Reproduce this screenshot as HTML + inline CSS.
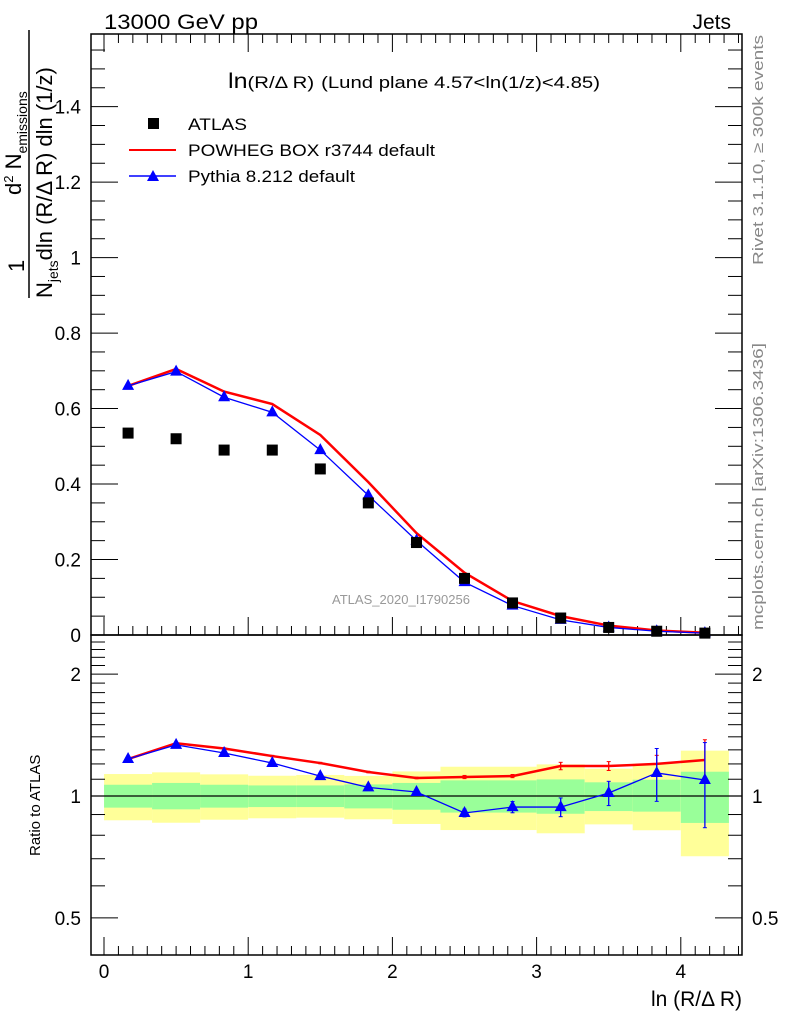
<!DOCTYPE html>
<html><head><meta charset="utf-8"><style>
body{margin:0;background:#fff;}
svg{display:block;font-family:"Liberation Sans",sans-serif;}
</style></head><body>
<svg id="c" width="786" height="1024" viewBox="0 0 786 1024">
<text x="104" y="29" font-size="21" textLength="154" lengthAdjust="spacingAndGlyphs">13000 GeV pp</text>
<text x="731" y="29" font-size="21" text-anchor="end">Jets</text>
<text x="228" y="88" font-size="21" textLength="372" lengthAdjust="spacingAndGlyphs">ln<tspan font-size="17">(R/Δ R)</tspan> <tspan font-size="17">(Lund plane 4.57&lt;ln(1/z)&lt;4.85)</tspan></text>
<text transform="translate(763,265) rotate(-90)" font-size="15" fill="#888" textLength="230" lengthAdjust="spacingAndGlyphs">Rivet 3.1.10, ≥ 300k events</text>
<text transform="translate(763,630) rotate(-90)" font-size="15" fill="#888" textLength="287" lengthAdjust="spacingAndGlyphs">mcplots.cern.ch [arXiv:1306.3436]</text>
<text x="332" y="604" font-size="13" fill="#999" textLength="138" lengthAdjust="spacingAndGlyphs">ATLAS_2020_I1790256</text>
<g font-size="22">
<text transform="translate(24,272) rotate(-90)">1</text>
<line x1="29" y1="298" x2="29" y2="30" stroke="#000" stroke-width="1.5"/>
<text transform="translate(52,298) rotate(-90)">N<tspan font-size="14" dy="6">jets</tspan><tspan dy="-6">dln (R/Δ R) dln (1/z)</tspan></text>
<text transform="translate(21,195) rotate(-90)">d<tspan font-size="13" dy="-8">2</tspan><tspan dy="8"> N</tspan><tspan font-size="14" dy="6">emissions</tspan></text>
</g>
<text transform="translate(40,856) rotate(-90)" font-size="15">Ratio to ATLAS</text>
<text x="742" y="1006" font-size="21" text-anchor="end">ln (R/Δ R)</text>
<g id="g"></g>
<g font-size="17">
<rect x="148" y="118" width="11" height="11" fill="#000"/>
<text x="188" y="130" textLength="59" lengthAdjust="spacingAndGlyphs">ATLAS</text>
<line x1="129" y1="150" x2="176" y2="150" stroke="#f00" stroke-width="2"/>
<text x="188" y="156" textLength="247" lengthAdjust="spacingAndGlyphs">POWHEG BOX r3744 default</text>
<line x1="129" y1="176" x2="176" y2="176" stroke="#00f" stroke-width="1.5"/>
<polygon points="153,170 147,181 159,181" fill="#00f"/>
<text x="188" y="182" textLength="167" lengthAdjust="spacingAndGlyphs">Pythia 8.212 default</text>
</g>
</svg>
<script>
const xCenters=[0.167,0.5,0.833,1.167,1.5,1.833,2.167,2.5,2.833,3.167,3.5,3.833,4.167];
const atlas=[0.535,0.52,0.49,0.49,0.44,0.35,0.245,0.15,0.085,0.045,0.02,0.01,0.005];
const powheg=[0.66,0.705,0.645,0.612,0.53,0.405,0.27,0.165,0.09,0.05,0.025,0.012,0.006];
const pythia=[0.66,0.698,0.63,0.59,0.49,0.37,0.25,0.14,0.078,0.04,0.02,0.01,0.005];
const rPowheg=[1.234,1.35,1.31,1.255,1.206,1.146,1.108,1.114,1.12,1.186,1.186,1.2,1.227];
const rPowhegErr=[0.005,0.005,0.005,0.005,0.005,0.005,0.005,0.01,0.01,0.025,0.03,0.06,0.15];
const rPythia=[1.234,1.337,1.277,1.206,1.12,1.05,1.023,0.908,0.939,0.939,1.017,1.14,1.095];
const rPythiaErr=[0.005,0.005,0.005,0.005,0.005,0.005,0.005,0.02,0.03,0.05,0.07,0.17,0.26];
const yelUp=[1.133,1.144,1.131,1.122,1.127,1.121,1.15,1.181,1.181,1.197,1.168,1.202,1.294];
const yelLo=[0.871,0.859,0.874,0.881,0.884,0.876,0.853,0.824,0.824,0.809,0.851,0.823,0.71];
const grnUp=[1.066,1.077,1.066,1.062,1.062,1.068,1.077,1.093,1.093,1.099,1.081,1.097,1.148];
const grnLo=[0.936,0.927,0.936,0.939,0.939,0.932,0.925,0.91,0.91,0.904,0.918,0.915,0.858];
const xTicks=[0,1,2,3,4];
const yTicks=[0,0.2,0.4,0.6,0.8,1,1.2,1.4];
const yTickLabels=["0","0.2","0.4","0.6","0.8","1","1.2","1.4"];
const rTicks=[0.5,1,2];
const binW=1/3;
const NS="http://www.w3.org/2000/svg";
const g=document.getElementById('g');
const L=91,R=742,T=34,MB=635,RB=955;
const X=v=>104+v*144.2;
const Y=v=>635-v*377.4;
const RY=r=>796-405*Math.log10(r);
function mk(t,a,parent){const e=document.createElementNS(NS,t);for(const k in a)e.setAttribute(k,a[k]);(parent||g).appendChild(e);return e;}
const clip=mk('clipPath',{id:'rc'});mk('rect',{x:L,y:635,width:R-L,height:RB-635},clip);
const bg=mk('g',{'clip-path':'url(#rc)'});


xCenters.forEach((c,i)=>{
 const x0=X(c-binW/2),x1=X(c+binW/2);
 const y=mk('rect',{x:x0,y:RY(yelUp[i]),width:x1-x0,height:RY(yelLo[i])-RY(yelUp[i]),fill:'#ffff99'},bg);
 
 
 const gr=mk('rect',{x:x0,y:RY(grnUp[i]),width:x1-x0,height:RY(grnLo[i])-RY(grnUp[i]),fill:'#99ff99'},bg);
 
 
});
mk('line',{x1:L,x2:R,y1:RY(1),y2:RY(1),stroke:'#000','stroke-width':1.3});
const f1=mk('rect',{x:L,y:T,width:R-L,height:MB-T,fill:'none',stroke:'#000','stroke-width':1.5});


const f2=mk('rect',{x:L,y:MB,width:R-L,height:RB-MB,fill:'none',stroke:'#000','stroke-width':1.5});


for(let v=0;v<=4.41;v+=0.1){const vv=Math.round(v*10)/10;const maj=Math.abs(vv-Math.round(vv))<1e-6;const len=maj?18:9;const x=X(vv);
 [[T,1],[MB,-1],[RB,-1]].forEach(([y0,d])=>mk('line',{x1:x,x2:x,y1:y0,y2:y0+d*len,stroke:'#000'}));}
xTicks.forEach(v=>{const t=mk('text',{x:X(v),y:978,'font-size':19,'text-anchor':'middle'});t.textContent=v;
 
 });
for(let v=0;v<=1.58;v+=0.05){const vv=Math.round(v*100)/100;const maj=Math.abs(vv*5-Math.round(vv*5))<1e-6;const len=maj?27:14;const y=Y(vv);
 mk('line',{x1:L,x2:L+len,y1:y,y2:y,stroke:'#000'});mk('line',{x1:R,x2:R-len,y1:y,y2:y,stroke:'#000'});}
yTicks.forEach((v,i)=>{const t=mk('text',{x:81,y:Y(v)+7,'font-size':19,'text-anchor':'end'});t.textContent=yTickLabels[i];
 
 });
[0.5,0.6,0.7,0.8,0.9,1,1.1,1.2,1.3,1.4,1.5,1.6,1.7,1.8,1.9,2,2.1,2.2,2.3,2.4].forEach(r=>{const y=RY(r);if(y<MB+2)return;const maj=rTicks.includes(r);const len=maj?27:14;
 mk('line',{x1:L,x2:L+len,y1:y,y2:y,stroke:'#000'});mk('line',{x1:R,x2:R-len,y1:y,y2:y,stroke:'#000'});});
rTicks.forEach(r=>{const t=mk('text',{x:81,y:RY(r)+7,'font-size':19,'text-anchor':'end'});t.textContent=r;
 
 
 const t2=mk('text',{x:752,y:RY(r)+7,'font-size':19});t2.textContent=r;
 
 });
function line(xs,ys,col,w,name){const p=mk('polyline',{points:xs.map((x,i)=>X(x)+','+ys[i]).join(' '),fill:'none',stroke:col,'stroke-width':w});
 
 }
function tri(x,y,name){const p=mk('polygon',{points:`${x},${y-7} ${x-6},${y+4} ${x+6},${y+4}`,fill:'#00f'});
 
 }
function err(c,v,e,col){const x=X(c);mk('line',{x1:x,x2:x,y1:RY(v+e),y2:RY(v-e),stroke:col,'stroke-width':1.3});
 mk('line',{x1:x-2,x2:x+2,y1:RY(v+e),y2:RY(v+e),stroke:col});mk('line',{x1:x-2,x2:x+2,y1:RY(v-e),y2:RY(v-e),stroke:col});}
line(xCenters,powheg.map(Y),'#f00',2.5,'powheg-line');
line(xCenters,pythia.map(Y),'#00f',1.3,'pythia-line');
xCenters.forEach((c,i)=>tri(X(c),Y(pythia[i]),'pythia-point'));
xCenters.forEach((c,i)=>{const r=mk('rect',{x:X(c)-5.5,y:Y(atlas[i])-5.5,width:11,height:11,fill:'#000'});
 
 });
xCenters.forEach((c,i)=>err(c,rPowheg[i],rPowhegErr[i],'#f00'));
line(xCenters,rPowheg.map(RY),'#f00',2.5,'powheg-ratio-line');
xCenters.forEach((c,i)=>err(c,rPythia[i],rPythiaErr[i],'#00f'));
line(xCenters,rPythia.map(RY),'#00f',1.3,'pythia-ratio-line');
xCenters.forEach((c,i)=>tri(X(c),RY(rPythia[i]),'pythia-ratio-point'));
</script>
</body></html>
